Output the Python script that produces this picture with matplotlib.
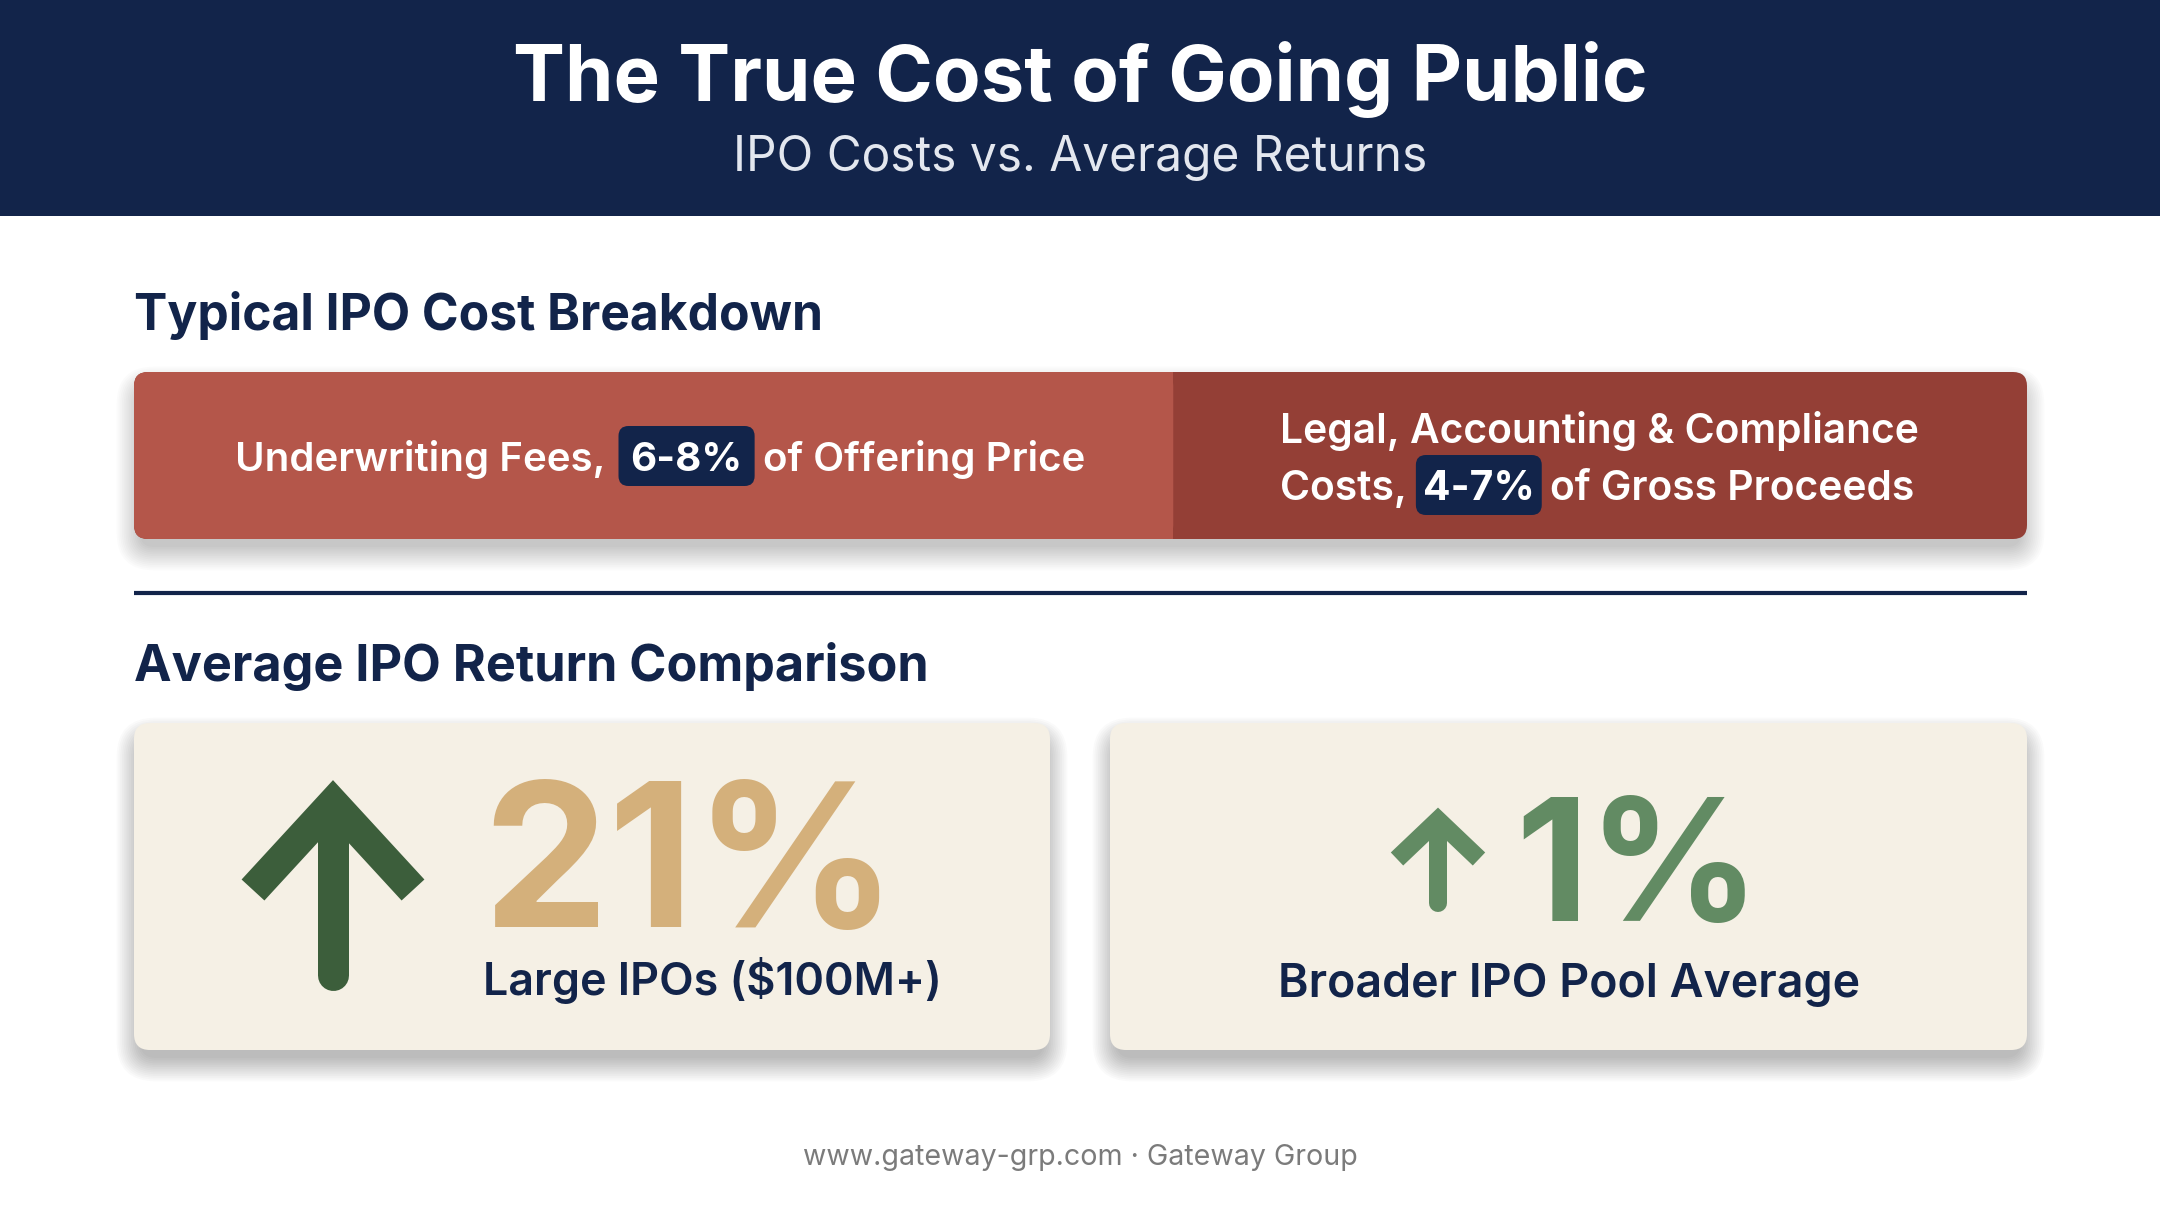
import matplotlib
matplotlib.use("Agg")
import matplotlib.pyplot as plt
from matplotlib.patches import FancyBboxPatch, Rectangle

# --- data ---
cost_names = ["Underwriting Fees,", "Costs,"]
cost_low = [6, 4]
cost_high = [8, 7]
cost_bases = ["of Offering Price", "of Gross Proceeds"]
return_values = [21, 1]
return_labels = ["Large IPOs ($100M+)", "Broader IPO Pool Average"]

NAVY = "#12244a"
RED_L = "#b4564a"
RED_R = "#943f36"
CREAM = "#f5f0e5"
GREEN_D = "#3c5e3b"
GREEN_L = "#628b63"
TAN = "#d4b07b"
FAM = ["Inter", "DejaVu Sans"]

W, H = 2160, 1206
fig = plt.figure(figsize=(W / 100, H / 100), dpi=100)
ax = fig.add_axes([0, 0, 1, 1])
ax.set_xlim(0, W)
ax.set_ylim(H, 0)
ax.axis("off")
fig.patch.set_facecolor("white")
renderer = fig.canvas.get_renderer()


def text_width(s, size, weight):
    t = ax.text(0, 0, s, fontsize=size, fontweight=weight, family=FAM)
    w = t.get_window_extent(renderer).width
    t.remove()
    return w


def fit(s, width, weight):
    return 100 * width / text_width(s, 100, weight)


def put(x, y, s, width, weight, color, ha="left", size=None):
    if size is None:
        size = fit(s, width, weight)
    ax.text(x, y, s, fontsize=size, fontweight=weight, family=FAM,
            color=color, ha=ha, va="baseline", zorder=4)
    return size


def rbox(x0, y0, x1, y1, r, color, z=1, alpha=1.0):
    p = FancyBboxPatch((x0, y0), x1 - x0, y1 - y0,
                       boxstyle=f"round,pad=0,rounding_size={r}",
                       fc=color, ec="none", zorder=z, alpha=alpha)
    ax.add_patch(p)


def shadow(x0, y0, x1, y1, r, strength=0.016):
    for i in range(14):
        g = i * 1.8
        rbox(x0 - g + 6, y0 - g + 18, x1 + g - 6, y1 + g + 8, r + g, "black",
             z=0.5, alpha=strength)


def pill_run(x, base, parts, size, gaps):
    # parts: (text, is_pill); gaps: before pill, pill padding, after pill
    before, pad, after = gaps
    for s, is_pill in parts:
        if is_pill:
            x += before
            w = text_width(s, size, "bold")
            rbox(x, base - 45, x + w + 2 * pad, base + 15, 10, NAVY, z=3)
            ax.text(x + pad, base, s, fontsize=size, fontweight="bold",
                    family=FAM, color="white", va="baseline", zorder=4)
            x += w + 2 * pad + after
        else:
            w = text_width(s, size, "semibold")
            ax.text(x, base, s, fontsize=size, fontweight="semibold",
                    family=FAM, color="white", va="baseline", zorder=4)
            x += w


# header band
ax.add_patch(Rectangle((0, 0), W, 216, fc=NAVY, ec="none", zorder=1))
put(W / 2, 101, "The True Cost of Going Public", 1134, "bold", "white", ha="center")
put(W / 2, 171, "IPO Costs vs. Average Returns", 694, "normal", "#e3e7ef", ha="center")

# cost breakdown
put(134, 330, "Typical IPO Cost Breakdown", 689, "bold", NAVY)
bx0, bx1, by0, by1 = 134, 2027, 372, 539
split = bx0 + (bx1 - bx0) * 0.549
shadow(bx0, by0, bx1, by1, 14)
rbox(bx0, by0, bx1, by1, 14, RED_R, z=1)
rbox(bx0, by0, split, by1, 14, RED_L, z=1.5)
ax.add_patch(Rectangle((split - 30, by0), 30, by1 - by0, fc=RED_L, ec="none", zorder=1.6))

ranges = [f"{lo}-{hi}%" for lo, hi in zip(cost_low, cost_high)]
sz = fit(cost_names[0], 370, "semibold")
pill_run(235, 471, [(cost_names[0], False), (ranges[0], True), (cost_bases[0], False)],
         sz, (13, 12, 8))
sz2 = put(1280, 443, "Legal, Accounting & Compliance", 640, "semibold", "white")
pill_run(1280, 500, [(cost_names[1], False), (ranges[1], True), (cost_bases[1], False)],
         sz2, (9, 7, 8))

# divider
ax.plot([134, 2027], [593, 593], color=NAVY, lw=3, solid_capstyle="butt")

# return comparison
put(134, 681, "Average IPO Return Comparison", 795, "bold", NAVY)
cards = [(134, 1050), (1110, 2027)]
for x0, x1 in cards:
    shadow(x0, 723, x1, 1050, 16, 0.02)
    rbox(x0, 723, x1, 1050, 16, CREAM, z=1)


def arrow(cx, tip, half, drop, bottom, width, color):
    lw = width * 0.72
    ax.plot([cx - half, cx, cx + half], [tip + drop, tip, tip + drop], color=color,
            lw=lw, solid_joinstyle="miter", solid_capstyle="butt", zorder=3)
    ax.plot([cx, cx], [tip + width * 0.4, bottom], color=color, lw=lw,
            solid_capstyle="round", zorder=3)


arrow(333, 803, 80, 87, 975, 31, GREEN_D)
put(482, 927, f"{return_values[0]}%", None, "bold", TAN, size=144)
put(483, 995, return_labels[0], 459, "semibold", NAVY)

arrow(1438, 820, 41, 39, 903, 18, GREEN_L)
put(1515, 921, f"{return_values[1]}%", None, "bold", GREEN_L, size=122)
put(1278, 997, return_labels[1], 582, "semibold", NAVY)

# footer
put(W / 2, 1165, "www.gateway-grp.com \u00b7 Gateway Group", 554, "normal", "#7b7b7b", ha="center")

fig.savefig("out.png", dpi=100, facecolor="white")
